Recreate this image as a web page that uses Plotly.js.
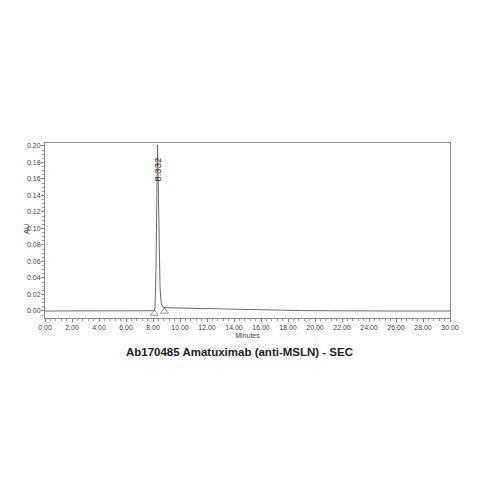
<!DOCTYPE html>
<html>
<head>
<meta charset="utf-8">
<script src="https://cdn.plot.ly/plotly-3.0.1.min.js"></script>
<style>
  html, body { margin: 0; padding: 0; background: #fff; }
  #plotly { width: 479px; height: 479px; }
</style>
</head>
<body>
<div id="plotly"></div>
<script>
// chromatogram
var timeMin = [0, 2, 4, 6, 7.5, 7.9, 8.0, 8.1, 8.15, 8.22, 8.29, 8.332, 8.38, 8.45, 8.52, 8.6, 8.7, 8.8, 9.5, 10, 12, 14, 16, 17, 19, 21, 22, 25, 30];
var au = [0, 0.0002, 0, 0, 0, 0, 0.0003, 0.001, 0.004, 0.05, 0.17, 0.201, 0.16, 0.08, 0.03, 0.01, 0.005, 0.004, 0.0037, 0.0035, 0.0027, 0.002, 0.0012, 0.0009, 0.0005, 0.0003, 0, 0, 0];

// peak start / end markers
var markX = [8.1, 8.85];
var markY = [-0.003, -0.0006];

var peakTime = 8.332;
var peakLabel = '8.332';
var chartTitle = 'Ab170485 Amatuximab (anti-MSLN) - SEC';

var trace = {
  x: timeMin,
  y: au,
  mode: 'lines',
  line: {color: '#6a6a6a', width: 1},
  hoverinfo: 'skip'
};

var marks = {
  x: markX,
  y: markY,
  mode: 'markers',
  marker: {symbol: 'triangle-up-open', size: 7, color: '#777', line: {width: 0.8}},
  hoverinfo: 'skip'
};

var fam = 'Liberation Sans, Arial, sans-serif';
var tickFont = {family: fam, size: 7, color: '#444'};

var layout = {
  width: 479,
  height: 479,
  margin: {l: 45, r: 29, t: 143, b: 161},
  paper_bgcolor: '#fff',
  plot_bgcolor: '#fff',
  showlegend: false,
  title: {
    text: '<b>' + chartTitle + '</b>',
    font: {family: fam, size: 11.5, color: '#222'},
    x: 0.5, xanchor: 'center',
    yref: 'container', y: 1 - 352 / 479, yanchor: 'middle'
  },
  xaxis: {
    range: [0, 30],
    tickmode: 'linear', tick0: 0, dtick: 2,
    tickformat: '.2f',
    ticks: 'outside', ticklen: 3, tickcolor: '#666', tickwidth: 0.8,
    minor: {dtick: 0.4, ticks: 'outside', ticklen: 2, tickcolor: '#888', showgrid: false},
    showgrid: false, zeroline: false,
    showline: true, linecolor: '#888', linewidth: 1, mirror: true,
    tickfont: tickFont,
    title: {text: 'Minutes', font: {family: fam, size: 7, color: '#444'}, standoff: 2}
  },
  yaxis: {
    range: [-0.0085, 0.2036],
    tickmode: 'linear', tick0: 0, dtick: 0.02,
    tickformat: '.2f',
    ticks: 'outside', ticklen: 3, tickcolor: '#666', tickwidth: 0.8,
    ticklabelstandoff: -1,
    minor: {dtick: 0.005, ticks: 'outside', ticklen: 2, tickcolor: '#888', showgrid: false},
    showgrid: false, zeroline: false,
    showline: true, linecolor: '#888', linewidth: 1, mirror: true,
    tickfont: tickFont
  },
  annotations: [{
    x: peakTime, y: 0.172,
    xref: 'x', yref: 'y',
    text: peakLabel,
    textangle: -90,
    showarrow: false,
    font: {family: fam, size: 9.5, color: '#333'}
  }, {
    x: -0.06, y: 0.51,
    xref: 'paper', yref: 'paper',
    text: 'AU',
    textangle: -90,
    showarrow: false,
    font: {family: fam, size: 7.5, color: '#444'}
  }]
};

Plotly.newPlot('plotly', [trace, marks], layout, {displayModeBar: false, staticPlot: true});
</script>
</body>
</html>
